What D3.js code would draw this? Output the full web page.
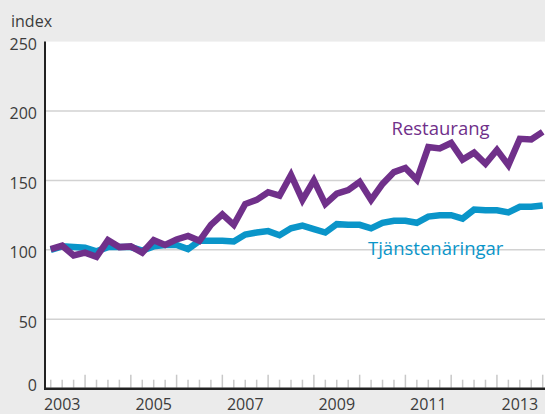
<!DOCTYPE html>
<html>
<head>
<meta charset="utf-8">
<script src="https://cdn.jsdelivr.net/npm/d3@7"></script>
<style>
  html, body { margin: 0; padding: 0; background: #ebebeb; }
  svg { display: block; }
  text { font-family: "Open Sans", sans-serif; }
</style>
</head>
<body>
<svg id="chart" width="545" height="414"></svg>
<script>
// ---- data (quarterly index, 2003Q1 = ~100) ----
const quarters = [
  "2003Q1","2003Q2","2003Q3","2003Q4","2004Q1","2004Q2","2004Q3","2004Q4",
  "2005Q1","2005Q2","2005Q3","2005Q4","2006Q1","2006Q2","2006Q3","2006Q4",
  "2007Q1","2007Q2","2007Q3","2007Q4","2008Q1","2008Q2","2008Q3","2008Q4",
  "2009Q1","2009Q2","2009Q3","2009Q4","2010Q1","2010Q2","2010Q3","2010Q4",
  "2011Q1","2011Q2","2011Q3","2011Q4","2012Q1","2012Q2","2012Q3","2012Q4",
  "2013Q1","2013Q2","2013Q3","2013Q4"
];
const restaurang = [100.5,103,96,98,95,107,102,102.5,98,107,103.5,107.5,110,106.5,118,125.5,
  118,133,136,141.5,139,154,136,150,133,140.5,143,149,136,147.5,156,159,
  150.5,174,173,177,165,170,162,172,161,180,179.5,185];
const tjanst = [100,102.5,102,101.5,99,102,102,102,99.5,102.5,103.5,103.5,100.5,106.5,106.5,106.5,
  106,111,112.5,113.5,110.5,115.5,117.5,115,112.5,118.5,118,118,115.5,119.5,121,121,
  119.5,124,125,125,122.5,129,128.5,128.5,127,131,131,132];
const yTicks = [0, 50, 100, 150, 200, 250];
const yearLabels = ["2003","2005","2007","2009","2011","2013"];
const seriesNames = ["Tjänstenäringar", "Restaurang"];

// ---- layout ----
const plotLeft = 45, plotRight = 545, plotTop = 41.6, plotBottom = 388.7;
const purple = "#70308a", blue = "#0a95c9";

const svg = d3.select("#chart");

// quarter string -> time at end of quarter
const qTime = q => +q.slice(0, 4) + (+q.slice(5)) / 4;

const x = d3.scaleLinear().domain([2003, 2014]).range([39.3, 542.7]);
const y = d3.scaleLinear().domain([0, 250]).range([plotBottom, plotTop]);

// plot background
svg.append("rect")
  .attr("x", plotLeft).attr("y", plotTop)
  .attr("width", plotRight - plotLeft).attr("height", plotBottom - plotTop)
  .attr("fill", "#ffffff");

// gridlines
svg.append("g")
  .selectAll("line")
  .data(yTicks.filter(d => d > 0 && d < 250))
  .join("line")
  .attr("x1", plotLeft).attr("x2", plotRight)
  .attr("y1", d => y(d)).attr("y2", d => y(d))
  .attr("stroke", "#d2d2d2").attr("stroke-width", 1.5);

// x ticks (quarters minor, years major)
const tickTimes = quarters.map(qTime);
svg.append("g")
  .selectAll("line")
  .data(tickTimes)
  .join("line")
  .attr("x1", d => x(d)).attr("x2", d => x(d))
  .attr("y1", plotBottom - 1)
  .attr("y2", d => Math.abs(d - Math.round(d)) < 1e-6 ? plotBottom - 14 : plotBottom - 9)
  .attr("stroke", "#c8c8c8").attr("stroke-width", 1.5);

// lines
const line = d3.line()
  .x((d, i) => x(qTime(quarters[i])))
  .y(d => y(d));

svg.append("path")
  .datum(tjanst)
  .attr("d", line)
  .attr("fill", "none").attr("stroke", blue).attr("stroke-width", 6.5)
  .attr("stroke-linejoin", "miter");

svg.append("path")
  .datum(restaurang)
  .attr("d", line)
  .attr("fill", "none").attr("stroke", purple).attr("stroke-width", 6.5)
  .attr("stroke-linejoin", "miter");

// axis lines
svg.append("line")
  .attr("x1", plotLeft).attr("x2", plotLeft)
  .attr("y1", plotTop).attr("y2", plotBottom)
  .attr("stroke", "#222").attr("stroke-width", 2);
svg.append("line")
  .attr("x1", plotLeft - 1).attr("x2", plotRight)
  .attr("y1", plotBottom).attr("y2", plotBottom)
  .attr("stroke", "#222").attr("stroke-width", 2.6);

// y tick labels
svg.append("g")
  .selectAll("text")
  .data(yTicks)
  .join("text")
  .attr("x", 37).attr("y", d => y(d))
  .attr("dy", d => d === 0 ? "0.15em" : "0.52em")
  .attr("text-anchor", "end")
  .attr("font-size", 16).attr("fill", "#3c3c3c")
  .text(d => d);

// x year labels
svg.append("g")
  .selectAll("text")
  .data(yearLabels)
  .join("text")
  .attr("x", d => x(+d + 0.5)).attr("y", 409.8)
  .attr("text-anchor", "middle")
  .attr("font-size", 16).attr("fill", "#3c3c3c")
  .text(d => d);

// axis title
svg.append("text")
  .attr("x", 11).attr("y", 26.5)
  .attr("font-size", 16).attr("fill", "#3c3c3c")
  .text("index");

// series labels
svg.append("text")
  .attr("x", 391.5).attr("y", 135)
  .attr("font-size", 18.5).attr("fill", purple)
  .text(seriesNames[1]);
svg.append("text")
  .attr("x", 368).attr("y", 255)
  .attr("font-size", 18.5).attr("fill", blue)
  .text(seriesNames[0]);
</script>
</body>
</html>
